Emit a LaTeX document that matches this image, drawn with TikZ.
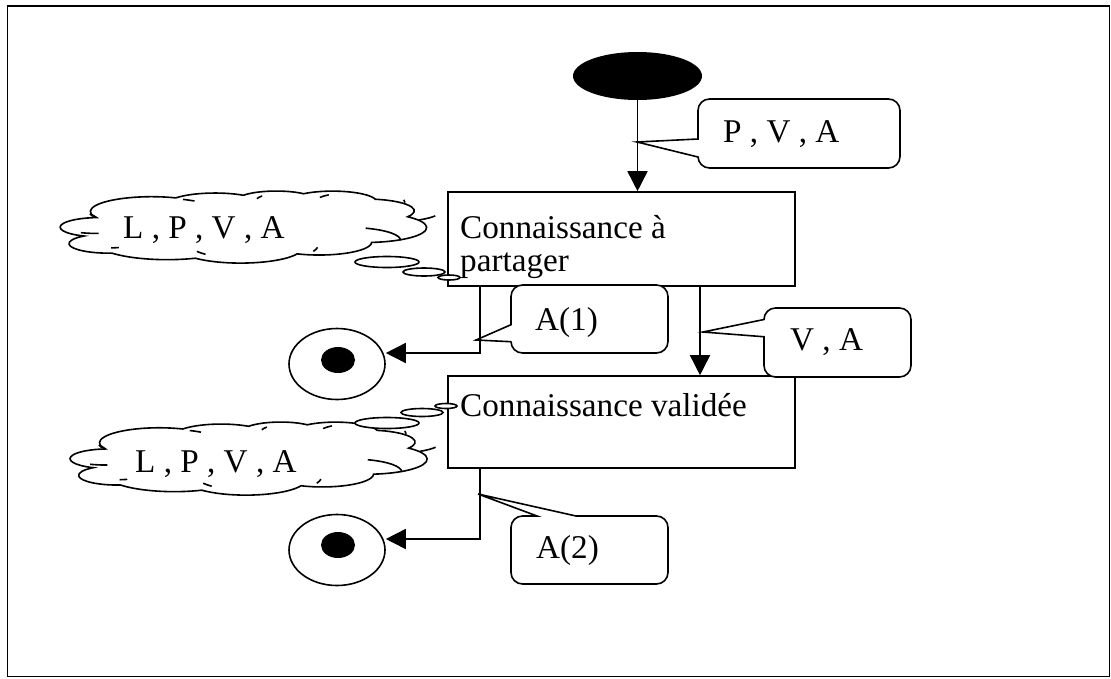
\documentclass[tikz,border=0pt]{standalone}
\usepackage{fontspec}
\setmainfont{Liberation Serif}
\usetikzlibrary{arrows.meta,shapes.geometric}
\tikzset{
  ln/.style={line width=1.6pt},
  box/.style={draw, line width=1.6pt, fill=white, minimum width=347pt, minimum height=94pt, inner sep=0pt},
  txt/.style={font=\fontsize{33.2}{35}\selectfont, inner sep=0pt, anchor=base west},
  arr/.style={line width=1.6pt, -{Triangle[length=20pt,width=20pt]}},
  endc/.style={draw, ellipse, line width=1.6pt, minimum width=96pt, minimum height=71pt, inner sep=0pt, fill=white},
  enddot/.style={fill=black, ellipse, minimum width=34pt, minimum height=26pt, inner sep=0pt},
  bubble/.style={draw, fill=white, line width=1.6pt},
}
% Word cloud shape: #1,#2 = top-left, #3 = x scale, #4 = y scale
\newcommand\wcloud[4]{%
\begin{scope}[shift={(#1,#2)}, x=#3pt, y=-#4pt]
\filldraw[fill=white, line width=1.6pt] (39,143.7)
  arc[start angle=-190.4875, delta angle=123.7805, x radius=67.53, y radius=91.90]
  arc[start angle=-144.1024, delta angle=89.9452, x radius=53.33, y radius=72.67]
  arc[start angle=-145.8079, delta angle=99.7230, x radius=43.65, y radius=59.45]
  arc[start angle=-130.9861, delta angle=117.2417, x radius=48.57, y radius=65.95]
  arc[start angle=-78.7089, delta angle=109.0269, x radius=53.33, y radius=72.73]
  arc[start angle=-46.2673, delta angle=130.2690, x radius=67.75, y radius=92.20]
  arc[start angle=0.6250, delta angle=114.0333, x radius=57.85, y radius=78.67]
  arc[start angle=22.4516, delta angle=115.1726, x radius=67.52, y radius=92.15]
  arc[start angle=66.2426, delta angle=75.7110, x radius=77.20, y radius=105.43]
  arc[start angle=-274.9421, delta angle=146.7356, x radius=43.60, y radius=59.18]
  arc[start angle=-246.8285, delta angle=152.5189, x radius=43.45, y radius=59.45]
  -- cycle;
\draw[line width=1.6pt]
  (46.93,261.77) arc[start angle=86.7420, delta angle=26.4295, x radius=43.45, y radius=59.45]
  (69.28,348.99) arc[start angle=73.6105, delta angle=11.4475, x radius=43.60, y radius=59.18]
  (164.78,390.90) arc[start angle=137.6242, delta angle=14.0811, x radius=67.52, y radius=92.15]
  (288.27,347.51) arc[start angle=6.4533, delta angle=15.9984, x radius=67.52, y radius=92.15]
  (341.29,229.54) arc[start angle=-70.2924, delta angle=70.9174, x radius=57.85, y radius=78.67]
  (417.98,153.54) arc[start angle=30.3180, delta angle=27.7515, x radius=53.33, y radius=72.73]
  (383.24,54.26) arc[start angle=-13.7443, delta angle=14.8589, x radius=48.57, y radius=65.95]
  (290.78,39.52) arc[start angle=-149.1815, delta angle=18.1954, x radius=48.57, y radius=65.95]
  (221.41,47.20) arc[start angle=-163.4943, delta angle=17.6864, x radius=43.65, y radius=59.45]
  (140.00,51.92) arc[start angle=-66.7070, delta angle=12.3194, x radius=67.53, y radius=91.90]
  (41.27,157.89) arc[start angle=157.6544, delta angle=11.8582, x radius=67.53, y radius=91.90];
\end{scope}}
% rounded callout with notch on the left side: x0 y0 x1 y1 notchTop notchBottom tipx tipy
\newcommand\leftcall[8]{%
\filldraw[fill=white, ln] (#1+11.5,#2) -- (#3-11.5,#2)
  arc[start angle=-90, delta angle=90, radius=11.5] -- (#3,#4-11.5)
  arc[start angle=0, delta angle=90, radius=11.5] -- (#1+11.5,#4)
  arc[start angle=90, delta angle=90, radius=11.5] -- (#1,#6) -- (#7,#8) -- (#1,#5) -- (#1,#2+11.5)
  arc[start angle=180, delta angle=90, radius=11.5] -- cycle;}
% rounded callout with notch on the top side: x0 y0 x1 y1 notchLeft notchRight tipx tipy
\newcommand\topcall[8]{%
\filldraw[fill=white, ln] (#1+11.5,#2) -- (#5,#2) -- (#7,#8) -- (#6,#2) -- (#3-11.5,#2)
  arc[start angle=-90, delta angle=90, radius=11.5] -- (#3,#4-11.5)
  arc[start angle=0, delta angle=90, radius=11.5] -- (#1+11.5,#4)
  arc[start angle=90, delta angle=90, radius=11.5] -- (#1,#2+11.5)
  arc[start angle=180, delta angle=90, radius=11.5] -- cycle;}
\begin{document}
\begin{tikzpicture}[x=1pt,y=-1pt]
\useasboundingbox (0,0) rectangle (1111,678);
\draw[line width=1.6pt] (7.5,6) rectangle (1109.5,676.5);

% clouds
\wcloud{56}{191}{0.907407}{0.162037}
\wcloud{66}{422}{0.884259}{0.164352}

% activity boxes
\node[box] (box1) at (621.5,239) {};
\node[box, minimum height=92pt] (box2) at (621.5,422) {};

% bubbles of the cloud callouts
\draw[bubble] (387,262) ellipse [x radius=32, y radius=5.5];
\draw[bubble] (424,272) ellipse [x radius=21, y radius=4];
\draw[bubble] (449,277.5) ellipse [x radius=11, y radius=2.5];
\draw[bubble] (387,423) ellipse [x radius=32, y radius=5.5];
\draw[bubble] (422,412.5) ellipse [x radius=21, y radius=4];
\draw[bubble] (446,406) ellipse [x radius=11, y radius=2.5];

% start and end states
\node[ellipse, fill=black, minimum width=129pt, minimum height=48pt, inner sep=0pt] (start) at (637.5,76) {};
\node[endc] (c1) at (337,364) {};
\node[enddot] (d1) at (338,360) {};
\node[endc] (c2) at (337,550) {};
\node[enddot] (d2) at (338,545) {};

% callouts
\leftcall{698}{99}{900}{168}{139}{157}{637}{142}
\leftcall{511}{285}{668}{353}{324.7}{341.7}{476}{340}
\leftcall{764}{308}{911}{377}{319.5}{336.75}{703}{332}
\topcall{511}{516}{668}{584}{537}{576}{478}{494}

% connectors
\coordinate (j1) at (480,353);
\coordinate (j2) at (480,539);
\coordinate (k1) at (700,300);
\draw[arr] (start.south) -- (start.south |- box1.north);
\draw[arr] (box1.south -| k1) -- (box2.north -| k1);
\draw[arr] (box1.south -| j1) |- (c1.east |- j1);
\draw[arr] (box2.south -| j2) |- (c2.east |- j2);

% texts
\node[txt] (tpva) at (723,142) {P , V , A};
\node[txt] (tb1a) at (460,238) {Connaissance à};
\node[txt] (tb1b) at (460,271) {partager};
\node[txt] (tb2) at (460,416) {Connaissance validée};
\node[txt] (tc1) at (123,238) {L , P , V , A};
\node[txt] (tc2) at (135,472) {L , P , V , A};
\node[txt] (ta1) at (535,330) {A(1)};
\node[txt] (tva) at (790,350) {V , A};
\node[txt] (ta2) at (536,558) {A(2)};
\end{tikzpicture}
\end{document}
